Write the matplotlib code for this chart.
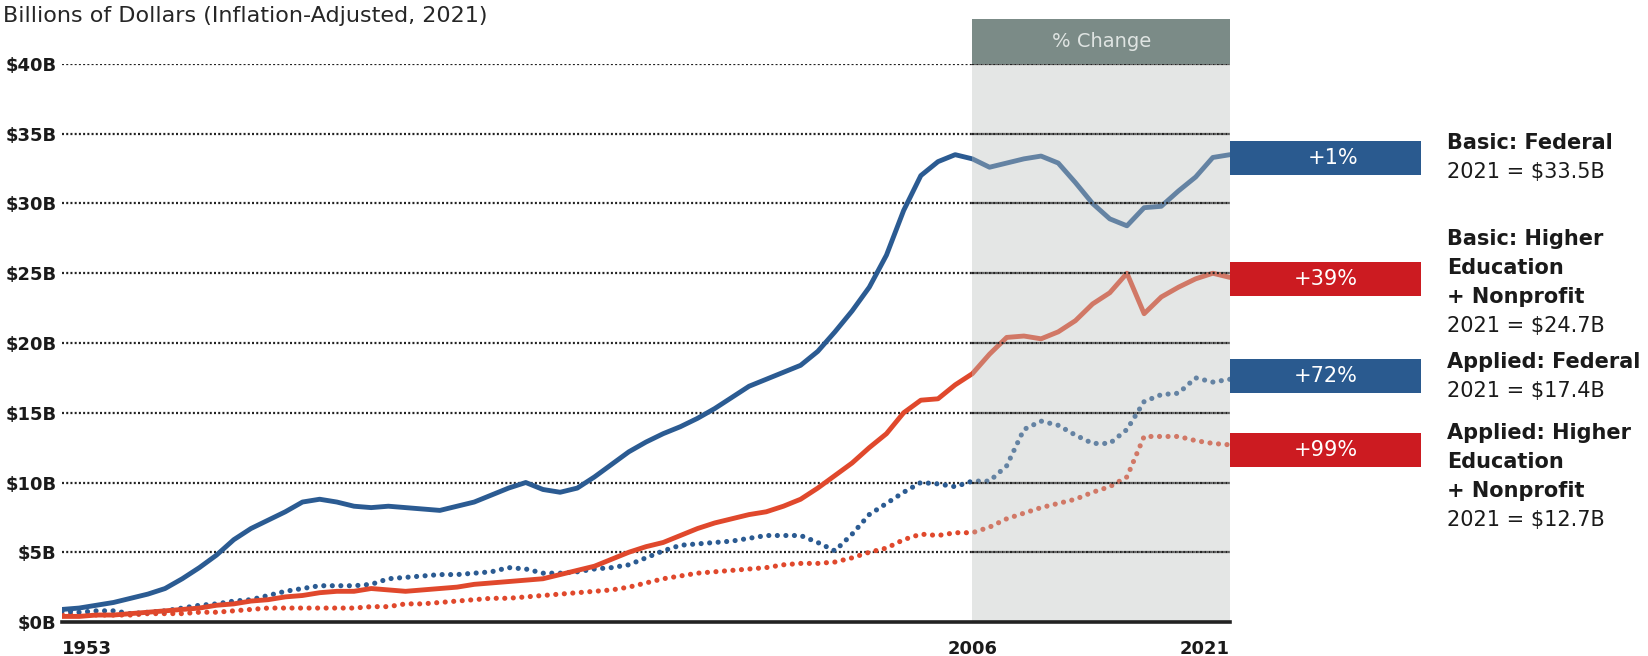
import matplotlib
matplotlib.use("Agg")
import matplotlib.pyplot as plt
from matplotlib.patches import Rectangle
import numpy as np

plt.rcParams['font.family'] = ['DejaVu Sans']

# ---------------- data ----------------
years = list(range(1953, 2022))

basic_federal = [0.9, 1.0, 1.2, 1.4, 1.7, 2.0, 2.4, 3.1, 3.9, 4.8,
                 5.9, 6.7, 7.3, 7.9, 8.6, 8.8, 8.6, 8.3, 8.2, 8.3,
                 8.2, 8.1, 8.0, 8.3, 8.6, 9.1, 9.6, 10.0, 9.5, 9.3,
                 9.6, 10.4, 11.3, 12.2, 12.9, 13.5, 14.0, 14.6, 15.3, 16.1,
                 16.9, 17.4, 17.9, 18.4, 19.4, 20.8, 22.3, 24.0, 26.3, 29.5,
                 32.0, 33.0, 33.5, 33.2, 32.6, 32.9, 33.2, 33.4, 32.9, 31.5,
                 30.0, 28.9, 28.4, 29.7, 29.8, 30.9, 31.9, 33.3, 33.5]

basic_higher_ed = [0.4, 0.4, 0.5, 0.5, 0.6, 0.7, 0.8, 0.9, 1.0, 1.2,
                   1.3, 1.5, 1.6, 1.8, 1.9, 2.1, 2.2, 2.2, 2.4, 2.3,
                   2.2, 2.3, 2.4, 2.5, 2.7, 2.8, 2.9, 3.0, 3.1, 3.4,
                   3.7, 4.0, 4.5, 5.0, 5.4, 5.7, 6.2, 6.7, 7.1, 7.4,
                   7.7, 7.9, 8.3, 8.8, 9.6, 10.5, 11.4, 12.5, 13.5, 15.0,
                   15.9, 16.0, 17.0, 17.8, 19.2, 20.4, 20.5, 20.3, 20.8, 21.6,
                   22.8, 23.6, 25.0, 22.1, 23.3, 24.0, 24.6, 25.0, 24.7]

applied_federal = [0.8, 0.7, 0.8, 0.8, 0.6, 0.7, 0.8, 1.0, 1.2, 1.3,
                   1.5, 1.6, 1.9, 2.2, 2.4, 2.6, 2.6, 2.6, 2.7, 3.1,
                   3.2, 3.3, 3.4, 3.4, 3.5, 3.6, 3.9, 3.8, 3.5, 3.5,
                   3.6, 3.8, 3.9, 4.1, 4.6, 5.1, 5.5, 5.6, 5.7, 5.8,
                   6.0, 6.2, 6.2, 6.2, 5.7, 5.1, 6.3, 7.7, 8.5, 9.3,
                   10.0, 9.9, 9.7, 10.1, 10.1, 11.2, 13.8, 14.4, 14.1, 13.4,
                   12.8, 12.8, 13.8, 15.8, 16.3, 16.4, 17.5, 17.2, 17.4]

applied_higher_ed = [0.6, 0.5, 0.5, 0.5, 0.5, 0.6, 0.6, 0.6, 0.7, 0.7,
                     0.8, 0.9, 1.0, 1.0, 1.0, 1.0, 1.0, 1.0, 1.1, 1.1,
                     1.3, 1.3, 1.4, 1.5, 1.6, 1.7, 1.7, 1.8, 1.9, 2.0,
                     2.1, 2.2, 2.3, 2.5, 2.8, 3.1, 3.3, 3.5, 3.6, 3.7,
                     3.8, 3.9, 4.1, 4.2, 4.2, 4.3, 4.6, 5.0, 5.3, 5.9,
                     6.3, 6.2, 6.4, 6.4, 6.8, 7.4, 7.8, 8.2, 8.5, 8.8,
                     9.3, 9.7, 10.4, 13.3, 13.3, 13.3, 13.0, 12.8, 12.7]

y_ticks = [0, 5, 10, 15, 20, 25, 30, 35, 40]
y_tick_labels = ["$0B", "$5B", "$10B", "$15B", "$20B", "$25B", "$30B", "$35B", "$40B"]
x_ticks = [1953, 2006, 2021]
x_tick_labels = ["1953", "2006", "2021"]

change_labels = ["+1%", "+39%", "+72%", "+99%"]
series_names = [["Basic: Federal"],
                ["Basic: Higher", "Education", "+ Nonprofit"],
                ["Applied: Federal"],
                ["Applied: Higher", "Education", "+ Nonprofit"]]
value_labels = ["2021 = $33.5B", "2021 = $24.7B", "2021 = $17.4B", "2021 = $12.7B"]

title = "Billions of Dollars (Inflation-Adjusted, 2021)"
header = "% Change"

# ---------------- style ----------------
BLUE = "#2b5b92"
RED = "#e0482c"
BOX_BLUE = "#2a5a8f"
BOX_RED = "#cc1b21"
HEADER = "#7b8b87"
TXT = "#1a1a1a"

W, H = 1648, 656
fig = plt.figure(figsize=(W / 100, H / 100), dpi=100)
ax_l, ax_r, ax_top, ax_bot = 62, 1230, 64, 622
ax = fig.add_axes([ax_l / W, 1 - ax_bot / H, (ax_r - ax_l) / W, (ax_bot - ax_top) / H])
ax.set_xlim(1953, 2021)
ax.set_ylim(0, 40)

# gridlines (under lines outside shaded region)
grid_kw = dict(colors="#222222", linewidth=1.6, linestyles=(0, (0.9, 1.0)))
ax.hlines(y_ticks[1:], 1953, 2021, zorder=1, **grid_kw)

dot_kw = dict(linewidth=3.7, linestyle=(0, (0.01, 1.65)), dash_capstyle="round", solid_capstyle="round")
ax.plot(years, applied_higher_ed, color=RED, zorder=2, **dot_kw)
ax.plot(years, applied_federal, color=BLUE, zorder=2, **dot_kw)
ax.plot(years, basic_higher_ed, color=RED, linewidth=3.5, zorder=2.1,
        solid_capstyle="round", solid_joinstyle="round")
ax.plot(years, basic_federal, color=BLUE, linewidth=3.5, zorder=2.2,
        solid_capstyle="round", solid_joinstyle="round")

# shaded "% change" region overlaid on lines
ax.axvspan(2006, 2021, color="#bcc1be", alpha=0.4, zorder=2.5, linewidth=0)
ax.hlines(y_ticks[1:], 2006, 2021, zorder=3, **grid_kw)

# header box
hdr_h = 3.2
ax.add_patch(Rectangle((2006, 40), 15, hdr_h, facecolor=HEADER, edgecolor="none",
                       clip_on=False, zorder=4))
ax.text(2013.5, 40 + hdr_h / 2, header, color="#dfe4e2", fontsize=14,
        ha="center", va="center", clip_on=False, zorder=5)

# axes styling
for s in ["top", "right", "left"]:
    ax.spines[s].set_visible(False)
ax.spines["bottom"].set_color("#222222")
ax.spines["bottom"].set_linewidth(2.6)
ax.spines["bottom"].set_zorder(6)
ax.set_yticks(y_ticks)
ax.set_yticklabels(y_tick_labels, fontsize=13, fontweight="bold", color=TXT)
ax.set_xticks(x_ticks)
ax.set_xticklabels(x_tick_labels, fontsize=13, fontweight="bold", color=TXT)
ax.tick_params(axis="y", length=0, pad=4)
ax.tick_params(axis="x", length=0, pad=13)
xl = ax.get_xticklabels()
xl[0].set_ha("left")
xl[1].set_ha("center")
xl[2].set_ha("right")

# title
fig.text(3 / W, 1 - 16 / H, title, fontsize=16, color="#262626", ha="left", va="center")

# change boxes
box_x0, box_x1 = 1230, 1421
box_tops = [141, 262, 359, 433]
box_colors = [BOX_BLUE, BOX_RED, BOX_BLUE, BOX_RED]
box_h = 34
for top, col, lab in zip(box_tops, box_colors, change_labels):
    fig.patches.append(Rectangle((box_x0 / W, 1 - (top + box_h) / H), (box_x1 - box_x0) / W,
                                 box_h / H, transform=fig.transFigure, facecolor=col,
                                 edgecolor="none", zorder=5))
    fig.text(1358 / W, 1 - (top + box_h / 2) / H, lab, color="white", fontsize=15,
             ha="right", va="center", zorder=6)

# series labels
block_starts = [143, 239, 362, 433]
line_gap = 29
for start, names, val in zip(block_starts, series_names, value_labels):
    y = start
    for nm in names:
        fig.text(1447 / W, 1 - y / H, nm, fontsize=15, fontweight="bold", color=TXT,
                 ha="left", va="center")
        y += line_gap
    fig.text(1447 / W, 1 - y / H, val, fontsize=15, color=TXT, ha="left", va="center")

fig.savefig("out.png", dpi=100)
